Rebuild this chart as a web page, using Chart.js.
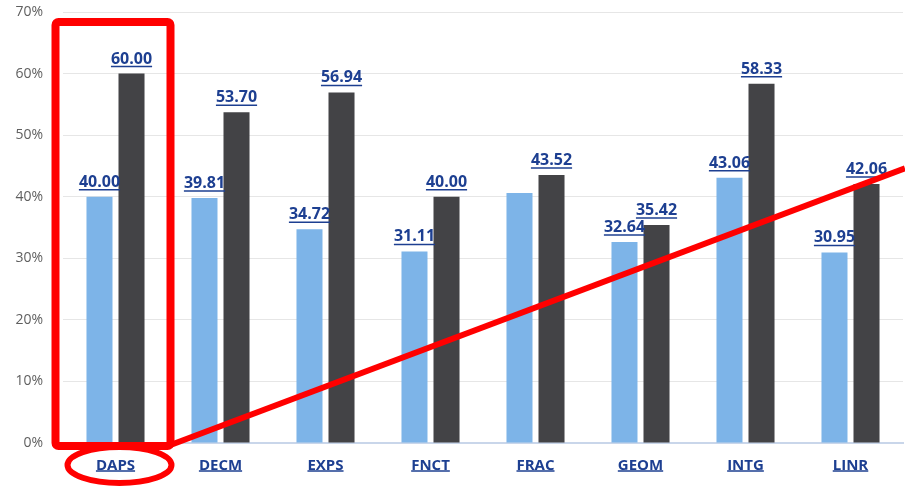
<!DOCTYPE html>
<html>
<head>
<meta charset="utf-8">
<script src="https://cdn.jsdelivr.net/npm/chart.js@4"></script>
<style>
html,body{margin:0;padding:0;background:#fff;}
#wrap{width:905px;height:487px;position:relative;}
</style>
</head>
<body>
<div id="wrap"><canvas id="c" width="905" height="487"></canvas></div>
<script>
const categories = ['DAPS','DECM','EXPS','FNCT','FRAC','GEOM','INTG','LINR'];
const seriesA = [40.00, 39.81, 34.72, 31.11, 40.6, 32.64, 43.06, 30.95];
const seriesB = [60.00, 53.70, 56.94, 40.00, 43.52, 35.42, 58.33, 42.06];
const labelsA = ['40.00','39.81','34.72','31.11', null,'32.64','43.06','30.95'];
const labelsB = ['60.00','53.70','56.94','40.00','43.52','35.42','58.33','42.06'];
const yTicks = [0,10,20,30,40,50,60,70];

const LABEL_COLOR = '#1d3f91';
const FONT = '"Open Sans", "Noto Sans", sans-serif';

const valueLabels = {
  id: 'valueLabels',
  afterDatasetsDraw(chart) {
    const ctx = chart.ctx;
    ctx.save();
    ctx.font = 'bold 16px ' + FONT;
    ctx.fillStyle = LABEL_COLOR;
    ctx.strokeStyle = LABEL_COLOR;
    ctx.textAlign = 'center';
    ctx.textBaseline = 'alphabetic';
    const lbls = [labelsA, labelsB];
    chart.data.datasets.forEach((ds, di) => {
      const meta = chart.getDatasetMeta(di);
      meta.data.forEach((bar, i) => {
        const t = lbls[di][i];
        if (!t) return;
        const y = bar.y - 10;
        ctx.fillText(t, bar.x, y);
        const w = ctx.measureText(t).width;
        ctx.lineWidth = 1.5;
        ctx.beginPath();
        ctx.moveTo(bar.x - w/2, y + 3);
        ctx.lineTo(bar.x + w/2, y + 3);
        ctx.stroke();
      });
    });
    const xs = chart.scales.x;
    ctx.font = 'bold 15px ' + FONT;
    categories.forEach((c, i) => {
      const x = xs.getPixelForValue(i);
      const w = ctx.measureText(c).width;
      const y = chart.chartArea.bottom + 28;
      ctx.lineWidth = 1.5;
      ctx.beginPath();
      ctx.moveTo(x - w/2, y);
      ctx.lineTo(x + w/2, y);
      ctx.stroke();
    });
    ctx.restore();
  },
  afterDraw(chart) {
    const ctx = chart.ctx;
    const ca = chart.chartArea;
    const xs = chart.scales.x, ys = chart.scales.y;
    const x0 = xs.getPixelForValue(0);
    ctx.save();
    ctx.strokeStyle = '#ff0000';
    ctx.lineJoin = 'round';
    ctx.lineWidth = 8;
    const rl = x0 - 60, rr = x0 + 55, rt = ca.top + 10, rb = ca.bottom + 3;
    ctx.beginPath();
    ctx.roundRect(rl, rt, rr - rl, rb - rt, 3);
    ctx.stroke();
    ctx.lineWidth = 6;
    ctx.beginPath();
    ctx.ellipse(x0 + 4, ca.bottom + 22, 52, 18, 0, 0, Math.PI * 2);
    ctx.stroke();
    ctx.lineWidth = 6;
    ctx.lineCap = 'butt';
    ctx.beginPath();
    ctx.moveTo(rr, rb - 1);
    ctx.lineTo(chart.width, ys.getPixelForValue(44.6));
    ctx.stroke();
    ctx.restore();
  }
};

new Chart(document.getElementById('c'), {
  type: 'bar',
  data: {
    labels: categories,
    datasets: [
      { data: seriesA, backgroundColor: '#7db4e8', categoryPercentage: 0.61, barPercentage: 0.8125 },
      { data: seriesB, backgroundColor: '#434346', categoryPercentage: 0.61, barPercentage: 0.8125 }
    ]
  },
  options: {
    responsive: false,
    animation: false,
    devicePixelRatio: 1,
    layout: { padding: { top: 12, right: 2, left: 0, bottom: 0 } },
    plugins: { legend: { display: false }, tooltip: { enabled: false } },
    scales: {
      x: {
        grid: { display: false },
        border: { color: '#c9d6ea', width: 2 },
        ticks: { color: LABEL_COLOR, font: { family: FONT, size: 15, weight: 'bold' }, padding: 6 },
        afterFit(s) { s.height = 44; }
      },
      y: {
        min: 0, max: 70,
        afterBuildTicks(s) { s.ticks = yTicks.map(v => ({ value: v })); },
        grid: { color: '#e6e6e6', lineWidth: 1, drawTicks: true, tickLength: 20, tickColor: 'rgba(0,0,0,0)' },
        border: { display: false },
        ticks: { color: '#5f5f5f', font: { family: FONT, size: 14 }, padding: 0, callback: v => v + '%' },
        afterFit(s) { s.width = 63; }
      }
    }
  },
  plugins: [valueLabels]
});
</script>
</body>
</html>
